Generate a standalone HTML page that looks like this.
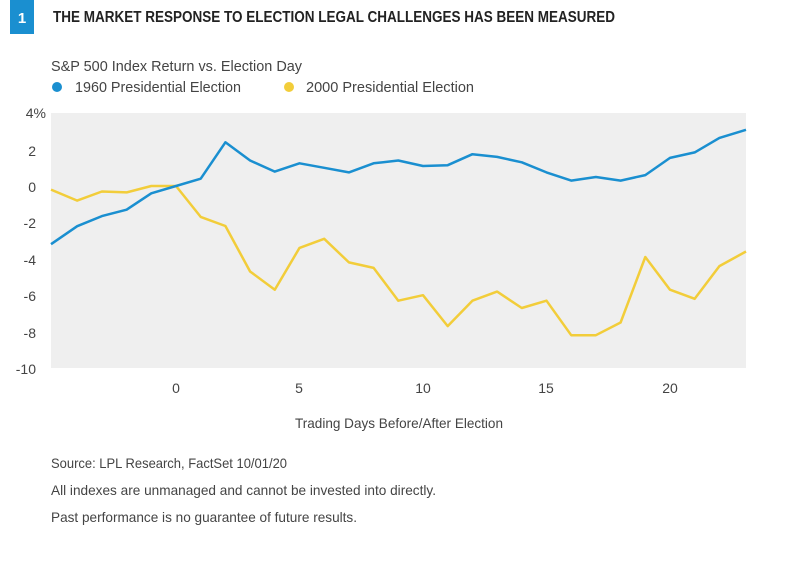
<!DOCTYPE html>
<html><head><meta charset="utf-8"><style>
body{margin:0;background:#fff;width:789px;height:557px;overflow:hidden}
</style></head><body>
<svg width="789" height="557" xmlns="http://www.w3.org/2000/svg" font-family="Liberation Sans Narrow, Liberation Sans, sans-serif">
<rect x="10" y="0" width="24" height="34" fill="#1a8fd0"/>
<text x="22" y="23" fill="#fff" font-size="15" font-weight="bold" text-anchor="middle">1</text>
<text x="53" y="22" fill="#222" font-size="16" font-weight="bold" textLength="562" lengthAdjust="spacingAndGlyphs">THE MARKET RESPONSE TO ELECTION LEGAL CHALLENGES HAS BEEN MEASURED</text>
<text x="51" y="71" fill="#444" font-size="15" textLength="251" lengthAdjust="spacingAndGlyphs">S&amp;P 500 Index Return vs. Election Day</text>
<circle cx="57" cy="87" r="5" fill="#1a8fd0"/>
<text x="75" y="92" fill="#444" font-size="15" textLength="166" lengthAdjust="spacingAndGlyphs">1960 Presidential Election</text>
<circle cx="289" cy="87" r="5" fill="#f2cd3a"/>
<text x="306" y="92" fill="#444" font-size="15" textLength="168" lengthAdjust="spacingAndGlyphs">2000 Presidential Election</text>
<rect x="51" y="113" width="695" height="255" fill="#efefef"/>
<g font-size="14" fill="#444" text-anchor="end">
<text x="46" y="118">4%</text><text x="36" y="156">2</text><text x="36" y="192">0</text>
<text x="36" y="228">-2</text><text x="36" y="265">-4</text><text x="36" y="301">-6</text><text x="36" y="338">-8</text><text x="36" y="374">-10</text>
</g>
<g font-size="14" fill="#444" text-anchor="middle">
<text x="176" y="393">0</text><text x="299" y="393">5</text><text x="423" y="393">10</text><text x="546" y="393">15</text><text x="670" y="393">20</text>
<text x="399" y="428" textLength="208" lengthAdjust="spacingAndGlyphs">Trading Days Before/After Election</text>
</g>
<polyline fill="none" stroke="#f2cd3a" stroke-width="2.5" stroke-linejoin="round" points="51,189.6 77.2,200.6 101.9,191.5 126.6,192.4 151.3,186 176,186 200.7,216.9 225.4,226 250.1,271.5 274.8,289.7 299.5,247.9 324.2,238.8 348.9,262.4 373.6,267.9 398.3,300.7 423,295.2 447.7,326.1 472.4,300.7 497.1,291.6 521.8,308 546.5,300.7 571.2,335.2 595.9,335.2 620.6,322.5 645.3,257 670,289.7 694.7,298.8 719.4,266.1 746,251.5"/>
<polyline fill="none" stroke="#1a8fd0" stroke-width="2.5" stroke-linejoin="round" points="51,244.2 77.2,226.2 101.9,216.1 126.6,209.7 151.3,193.3 176,186 200.7,178.7 225.4,142.3 250.1,160.5 274.8,171.6 299.5,163.3 324.2,167.8 348.9,172.4 373.6,163.3 398.3,160.5 423,166 447.7,165.2 472.4,154.2 497.1,156.9 521.8,162.3 546.5,172.4 571.2,180.6 595.9,177 620.6,180.6 645.3,175.1 670,157.9 694.7,152.4 719.4,137.9 746,129.8"/>
<g font-size="14" fill="#444">
<text x="51" y="468" textLength="236" lengthAdjust="spacingAndGlyphs">Source: LPL Research, FactSet   10/01/20</text>
<text x="51" y="495" textLength="385" lengthAdjust="spacingAndGlyphs">All indexes are unmanaged and cannot be invested into directly.</text>
<text x="51" y="522" textLength="306" lengthAdjust="spacingAndGlyphs">Past performance is no guarantee of future results.</text>
</g>
</svg>
</body></html>
